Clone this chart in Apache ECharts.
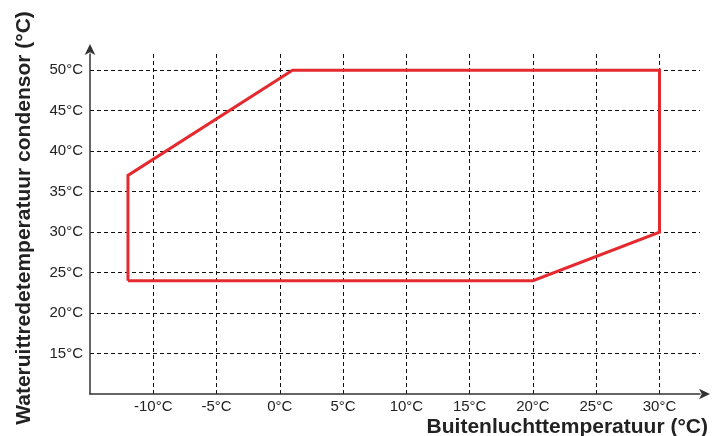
<!DOCTYPE html>
<html>
<head>
<meta charset="utf-8">
<script src="https://cdn.jsdelivr.net/npm/echarts@6/dist/echarts.min.js"></script>
<style>
html,body{margin:0;padding:0;background:#fff;}
#c{width:725px;height:436px;}
</style>
</head>
<body>
<div id="c"></div>
<script>
// Operating envelope (outdoor air temp vs condenser leaving water temp)
var envX = [-12, -12, 1, 30, 30, 20, -12];
var envY = [24, 37, 50, 50, 30, 24, 24];
var xTickValues = [-10, -5, 0, 5, 10, 15, 20, 25, 30];
var yTickValues = [15, 20, 25, 30, 35, 40, 45, 50];
var xTitle = 'Buitenluchttemperatuur (°C)';
var yTitle = 'Wateruittredetemperatuur condensor (°C)';

var font = '"Liberation Sans", Arial, sans-serif';
var data = envX.map(function (x, i) { return [x, envY[i]]; });

function fmt(list) {
  return function (v) { return list.indexOf(v) >= 0 ? v + '°C' : ''; };
}

var chart = echarts.init(document.getElementById('c'), null, {renderer: 'canvas'});
chart.setOption({
  animation: false,
  backgroundColor: '#ffffff',
  grid: {left: 90, right: 25, top: 54, bottom: 42, containLabel: false},
  xAxis: {
    type: 'value', min: -15, max: 33.2, interval: 5,
    axisLine: {show: true, onZero: false, lineStyle: {color: '#333', width: 1.5},
      symbol: ['none', 'arrow'], symbolSize: [8, 11], symbolOffset: [0, 10]},
    axisTick: {show: false},
    axisLabel: {formatter: fmt(xTickValues), color: '#222', fontSize: 15, fontFamily: font, margin: 5,
      showMinLabel: false, showMaxLabel: false},
    splitLine: {show: true, showMinLine: false, showMaxLine: false,
      lineStyle: {color: '#111', width: 1, type: [4, 3]}}
  },
  yAxis: {
    type: 'value', min: 10, max: 52, interval: 5,
    axisLine: {show: true, onZero: false, lineStyle: {color: '#333', width: 1.5},
      symbol: ['none', 'arrow'], symbolSize: [8, 11], symbolOffset: [0, 10]},
    axisTick: {show: false},
    axisLabel: {formatter: fmt(yTickValues), color: '#222', fontSize: 15, fontFamily: font, margin: 7,
      showMinLabel: false, showMaxLabel: false},
    splitLine: {show: true, showMinLine: false, showMaxLine: false,
      lineStyle: {color: '#111', width: 1, type: [4, 3]}}
  },
  series: [{
    type: 'line',
    data: data,
    showSymbol: false,
    symbol: 'none',
    lineStyle: {color: '#e52a2f', width: 3, join: 'miter'},
    z: 5
  }],
  graphic: [
    {type: 'text', x: 708, y: 427,
      style: {text: xTitle, font: 'bold 21px ' + font, fill: '#222', textAlign: 'right', textVerticalAlign: 'middle'}},
    {type: 'text', x: 24, y: 218, rotation: Math.PI / 2,
      style: {text: yTitle, font: 'bold 21px ' + font, fill: '#222', textAlign: 'center', textVerticalAlign: 'middle'}}
  ]
});
</script>
</body>
</html>
